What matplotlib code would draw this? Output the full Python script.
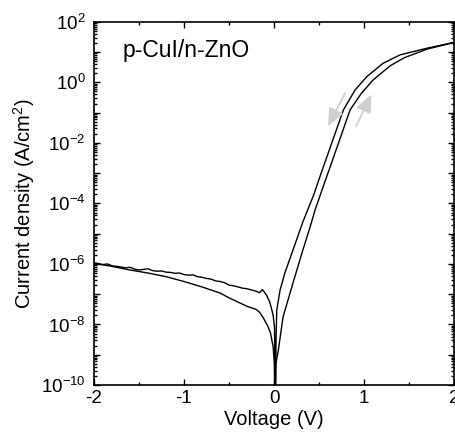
import numpy as np
import matplotlib
matplotlib.use("Agg")
import matplotlib.pyplot as plt
from matplotlib.ticker import LogLocator, FuncFormatter, MultipleLocator

plt.rcParams.update({
    'font.family': 'Liberation Sans',
    'font.size': 13.5,
    'mathtext.fontset': 'custom',
    'mathtext.rm': 'Liberation Sans',
    'mathtext.default': 'regular',
    'axes.unicode_minus': False,
})

# sweep 1: upper (noisy) branch at negative bias, left branch at positive bias
v_down = [-2.0, -1.95, -1.9, -1.85, -1.8, -1.75, -1.7, -1.65, -1.6, -1.55,
          -1.5, -1.45, -1.4, -1.35, -1.3, -1.25, -1.2, -1.15, -1.1, -1.05,
          -1.0, -0.95, -0.9, -0.85, -0.8, -0.75, -0.7, -0.65, -0.6, -0.55,
          -0.5, -0.45, -0.4, -0.35, -0.3, -0.25, -0.2, -0.16, -0.13, -0.11,
          -0.08, -0.05, -0.03, -0.01, 0.005, 0.015, 0.022, 0.03, 0.067, 0.12,
          0.21, 0.32, 0.44, 0.51, 0.64, 0.77, 0.9, 1.03, 1.21, 1.4, 1.7, 2.0]
logj_down = [-5.96, -5.99, -6.02, -6.00, -6.06, -6.08, -6.10, -6.13, -6.11, -6.17,
             -6.20, -6.18, -6.16, -6.22, -6.24, -6.23, -6.27, -6.28, -6.31, -6.30,
             -6.35, -6.37, -6.36, -6.42, -6.44, -6.48, -6.50, -6.56, -6.58, -6.62,
             -6.70, -6.72, -6.76, -6.80, -6.82, -6.86, -6.90, -6.95, -6.85, -6.92,
             -7.05, -7.25, -7.45, -7.70, -8.10, -11.0, -8.50, -7.52, -6.86, -6.30,
             -5.54, -4.61, -3.72, -3.11, -2.01, -0.91, -0.25, 0.19, 0.63, 0.91, 1.13, 1.32]

# sweep 2: lower smooth branch at negative bias, right branch at positive bias
v_up = [-2.0, -1.8, -1.6, -1.4, -1.2, -1.0, -0.8, -0.6, -0.5, -0.4,
        -0.3, -0.2, -0.16, -0.12, -0.07, -0.04, -0.01, 0.003, 0.01, 0.02,
        0.048, 0.1, 0.21, 0.32, 0.4, 0.456, 0.585, 0.715, 0.844, 0.97,
        1.1, 1.29, 1.45, 1.7, 2.0]
logj_up = [-5.98, -6.08, -6.20, -6.30, -6.42, -6.58, -6.76, -6.96, -7.12, -7.26,
           -7.40, -7.50, -7.60, -7.78, -8.05, -8.28, -8.74, -9.30, -11.0, -9.30,
           -8.84, -7.75, -6.63, -5.54, -4.78, -4.21, -3.11, -2.01, -0.91, -0.36,
           0.08, 0.55, 0.82, 1.10, 1.32]

# sweep direction arrows (start, end) in data units
arrow_down = [(0.79, 10**-0.35), (0.60, 10**-1.45)]
arrow_up = [(0.91, 10**-1.45), (1.08, 10**-0.40)]

fig = plt.figure(figsize=(4.56, 4.37), dpi=100)
ax = fig.add_axes([0.206, 0.119, 0.79, 0.831])

ax.plot(v_down, 10 ** np.array(logj_down), color='k', lw=1.0)
ax.plot(v_up, 10 ** np.array(logj_up), color='k', lw=1.0)

for (x0, y0), (x1, y1) in (arrow_down, arrow_up):
    ax.annotate('', xy=(x1, y1), xytext=(x0, y0),
                arrowprops=dict(arrowstyle='-|>,head_length=0.8,head_width=0.35',
                                color='#cfcfcf', lw=1.3, shrinkA=0, shrinkB=0))

ax.set_yscale('log')
ax.set_xlim(-2, 2)
ax.set_ylim(1e-10, 1e2)

ax.xaxis.set_major_locator(MultipleLocator(1))
ax.xaxis.set_minor_locator(MultipleLocator(0.5))
ax.yaxis.set_major_locator(LogLocator(base=10, numticks=20))
ax.yaxis.set_minor_locator(LogLocator(base=10, subs=np.arange(2, 10), numticks=20))


def even_decades(y, pos):
    e = int(round(np.log10(y)))
    return r'$10^{%d}$' % e if e % 2 == 0 else ''


ax.yaxis.set_major_formatter(FuncFormatter(even_decades))
ax.tick_params(which='both', direction='in', top=True, right=True, width=1)
ax.tick_params(which='major', length=4)
ax.tick_params(which='minor', length=2)
ax.tick_params(axis='y', pad=6)
for s in ax.spines.values():
    s.set_linewidth(1.2)

ax.set_xlabel('Voltage (V)', fontsize=14.5, labelpad=2)
ax.set_ylabel('Current density (A/cm$^2$)', fontsize=14.5, labelpad=3)
ax.text(0.08, 0.904, 'p-CuI/n-ZnO', transform=ax.transAxes, fontsize=16.5, va='baseline')

fig.savefig('out.png', dpi=100)
